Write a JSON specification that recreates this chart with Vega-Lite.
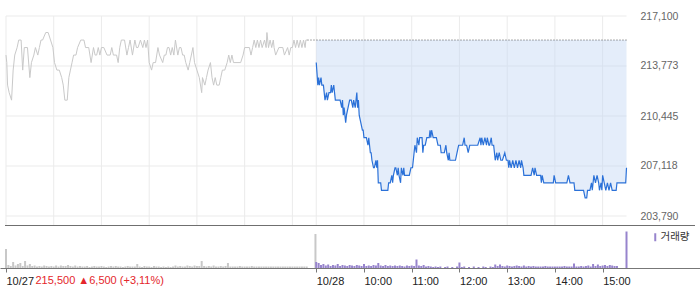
{
  "$schema": "https://vega.github.io/schema/vega-lite/v6.json",
  "width": 700,
  "height": 268,
  "autosize": "none",
  "padding": {"left": 0, "top": 0, "right": 0, "bottom": 21},
  "background": "white",
  "config": {"view": {"stroke": null}, "font": "Liberation Sans"},
  "datasets": {
    "hgrid": [{"p": 203790}, {"p": 207118}, {"p": 210445}, {"p": 213773}, {"p": 217100}],
    "vgrid": [{"m": 0}, {"m": 60}, {"m": 120}, {"m": 180}, {"m": 240}, {"m": 300}, {"m": 360}, {"m": 390}, {"m": 450}, {"m": 510}, {"m": 570}, {"m": 630}, {"m": 690}, {"m": 750}],
    "px1": [
      {"m":0,"p":214500},{"m":1,"p":214000},{"m":2,"p":212500},{"m":4,"p":212000},{"m":7,"p":211500},{"m":9,"p":213500},{"m":11,"p":214500},{"m":14,"p":215000},{"m":16,"p":215500},{"m":19,"p":215500},{"m":21,"p":213500},{"m":23,"p":215000},{"m":27,"p":215000},{"m":30,"p":213000},{"m":32,"p":214000},{"m":35,"p":214500},{"m":37,"p":215000},{"m":40,"p":214500},{"m":42,"p":215000},{"m":44,"p":215500},{"m":46,"p":215500},{"m":50,"p":216000},{"m":53,"p":216000},{"m":56,"p":215500},{"m":59,"p":215000},{"m":61,"p":214000},{"m":64,"p":213500},{"m":67,"p":213500},{"m":70,"p":213000},{"m":72,"p":212500},{"m":74,"p":211500},{"m":77,"p":211500},{"m":79,"p":213000},{"m":81,"p":213500},{"m":83,"p":214000},{"m":85,"p":214500},{"m":88,"p":214500},{"m":90,"p":215000},{"m":94,"p":215500},{"m":98,"p":215500},{"m":100,"p":215000},{"m":104,"p":215000},{"m":107,"p":214000},{"m":110,"p":215000},{"m":112,"p":214500},{"m":114,"p":214500},{"m":116,"p":215000},{"m":118,"p":214500},{"m":120,"p":215000},{"m":123,"p":215000},{"m":127,"p":214500},{"m":131,"p":214500},{"m":133,"p":215000},{"m":135,"p":214500},{"m":139,"p":214500},{"m":141,"p":214000},{"m":143,"p":215000},{"m":145,"p":215500},{"m":149,"p":215500},{"m":152,"p":214500},{"m":154,"p":215000},{"m":156,"p":215500},{"m":159,"p":214500},{"m":162,"p":215500},{"m":164,"p":215000},{"m":166,"p":215000},{"m":169,"p":215500},{"m":172,"p":215000},{"m":174,"p":215500},{"m":176,"p":215000},{"m":178,"p":215500},{"m":180,"p":214000},{"m":183,"p":213500},{"m":185,"p":214000},{"m":188,"p":214000},{"m":191,"p":215000},{"m":193,"p":214500},{"m":197,"p":214000},{"m":199,"p":214500},{"m":201,"p":214500},{"m":203,"p":215000},{"m":205,"p":215000},{"m":207,"p":214500},{"m":209,"p":215000},{"m":211,"p":214500},{"m":213,"p":215500},{"m":216,"p":214500},{"m":218,"p":215000},{"m":220,"p":215000},{"m":222,"p":214500},{"m":224,"p":214500},{"m":226,"p":214000},{"m":229,"p":213500},{"m":231,"p":214000},{"m":233,"p":214500},{"m":235,"p":215000},{"m":237,"p":214000},{"m":240,"p":213500},{"m":243,"p":213000},{"m":246,"p":212000},{"m":247,"p":213000},{"m":250,"p":212500},{"m":252,"p":213000},{"m":254,"p":213500},{"m":257,"p":214000},{"m":259,"p":213000},{"m":261,"p":212500},{"m":263,"p":213000},{"m":265,"p":212500},{"m":268,"p":212500},{"m":270,"p":213000},{"m":272,"p":213500},{"m":275,"p":213500},{"m":278,"p":214000},{"m":280,"p":214500},{"m":282,"p":214000},{"m":284,"p":214500},{"m":286,"p":214000},{"m":295,"p":214000},{"m":298,"p":214500},{"m":300,"p":215000},{"m":306,"p":215000},{"m":308,"p":214500},{"m":310,"p":215000},{"m":312,"p":215500},{"m":314,"p":215000},{"m":316,"p":215500},{"m":318,"p":215000},{"m":320,"p":215500},{"m":322,"p":215000},{"m":325,"p":215500},{"m":327,"p":215000},{"m":328,"p":216000},{"m":330,"p":215000},{"m":332,"p":215500},{"m":334,"p":215000},{"m":336,"p":215500},{"m":337,"p":215000},{"m":339,"p":214500},{"m":343,"p":215000},{"m":348,"p":215000},{"m":350,"p":214500},{"m":354,"p":215000},{"m":356,"p":214500},{"m":358,"p":215000},{"m":360,"p":215000},{"m":362,"p":215500},{"m":364,"p":215000},{"m":366,"p":215500},{"m":368,"p":215000},{"m":370,"p":215500},{"m":372,"p":215000},{"m":374,"p":215500},{"m":376,"p":215000},{"m":377,"p":215500},{"m":379,"p":215500}
    ],
    "px2": [
      {"m":390,"p":214000},{"m":392,"p":212500},{"m":393,"p":213000},{"m":394,"p":212500},{"m":396,"p":213000},{"m":397,"p":212500},{"m":399,"p":212500},{"m":400,"p":212000},{"m":401,"p":211500},{"m":403,"p":212000},{"m":404,"p":211500},{"m":406,"p":212000},{"m":408,"p":212000},{"m":409,"p":212500},{"m":410,"p":212000},{"m":412,"p":212500},{"m":413,"p":212000},{"m":414,"p":211500},{"m":420,"p":211500},{"m":422,"p":211000},{"m":423,"p":211500},{"m":424,"p":210500},{"m":425,"p":211000},{"m":427,"p":210000},{"m":428,"p":210500},{"m":430,"p":211000},{"m":432,"p":211500},{"m":434,"p":211500},{"m":436,"p":211000},{"m":437,"p":211500},{"m":439,"p":211000},{"m":441,"p":212000},{"m":442,"p":211000},{"m":443,"p":211500},{"m":444,"p":210500},{"m":446,"p":210000},{"m":448,"p":209500},{"m":449,"p":209500},{"m":450,"p":209000},{"m":453,"p":209000},{"m":455,"p":208500},{"m":456,"p":209000},{"m":458,"p":208000},{"m":459,"p":208000},{"m":460,"p":207500},{"m":462,"p":207000},{"m":463,"p":207000},{"m":465,"p":207500},{"m":466,"p":207000},{"m":467,"p":207500},{"m":468,"p":206000},{"m":471,"p":206000},{"m":472,"p":205500},{"m":480,"p":205500},{"m":481,"p":206000},{"m":483,"p":206000},{"m":485,"p":206500},{"m":486,"p":206000},{"m":487,"p":206500},{"m":489,"p":207000},{"m":490,"p":207000},{"m":492,"p":206500},{"m":493,"p":207000},{"m":494,"p":206500},{"m":496,"p":206000},{"m":497,"p":207000},{"m":499,"p":206500},{"m":500,"p":207000},{"m":501,"p":206500},{"m":507,"p":206500},{"m":509,"p":207000},{"m":511,"p":207000},{"m":512,"p":207500},{"m":514,"p":208500},{"m":516,"p":208000},{"m":517,"p":209000},{"m":519,"p":208500},{"m":520,"p":209000},{"m":523,"p":209000},{"m":524,"p":208000},{"m":525,"p":208500},{"m":527,"p":208500},{"m":529,"p":209000},{"m":532,"p":209000},{"m":533,"p":209500},{"m":534,"p":209000},{"m":535,"p":209500},{"m":537,"p":209000},{"m":541,"p":209000},{"m":543,"p":208500},{"m":546,"p":208500},{"m":547,"p":208000},{"m":551,"p":208000},{"m":553,"p":208500},{"m":554,"p":208000},{"m":556,"p":207500},{"m":557,"p":208000},{"m":558,"p":207500},{"m":563,"p":207500},{"m":565,"p":207500},{"m":567,"p":208000},{"m":569,"p":208500},{"m":571,"p":208500},{"m":574,"p":208500},{"m":576,"p":209000},{"m":577,"p":208500},{"m":579,"p":208500},{"m":581,"p":208000},{"m":583,"p":208500},{"m":593,"p":208500},{"m":596,"p":209000},{"m":597,"p":208500},{"m":598,"p":209000},{"m":600,"p":208500},{"m":602,"p":209000},{"m":604,"p":208500},{"m":605,"p":209000},{"m":607,"p":208500},{"m":608,"p":208500},{"m":610,"p":209000},{"m":611,"p":208500},{"m":613,"p":208500},{"m":614,"p":208000},{"m":615,"p":207500},{"m":617,"p":208000},{"m":618,"p":207500},{"m":620,"p":208000},{"m":622,"p":207500},{"m":624,"p":207500},{"m":627,"p":208000},{"m":629,"p":207500},{"m":631,"p":207500},{"m":632,"p":207000},{"m":633,"p":207500},{"m":635,"p":207000},{"m":637,"p":207500},{"m":639,"p":207000},{"m":641,"p":207500},{"m":643,"p":207000},{"m":645,"p":207500},{"m":647,"p":207000},{"m":648,"p":207500},{"m":650,"p":207000},{"m":651,"p":206500},{"m":656,"p":206500},{"m":660,"p":206500},{"m":662,"p":207000},{"m":664,"p":206500},{"m":665,"p":207000},{"m":667,"p":206500},{"m":669,"p":206500},{"m":672,"p":206500},{"m":673,"p":206000},{"m":674,"p":206500},{"m":676,"p":206000},{"m":685,"p":206000},{"m":688,"p":206000},{"m":689,"p":206500},{"m":691,"p":206000},{"m":697,"p":206000},{"m":701,"p":206000},{"m":705,"p":206000},{"m":707,"p":206500},{"m":709,"p":206000},{"m":714,"p":206000},{"m":715,"p":205500},{"m":720,"p":205500},{"m":722,"p":205500},{"m":726,"p":205500},{"m":728,"p":205000},{"m":730,"p":205000},{"m":731,"p":205500},{"m":734,"p":205500},{"m":736,"p":206000},{"m":737,"p":205500},{"m":739,"p":206500},{"m":741,"p":206000},{"m":743,"p":206500},{"m":745,"p":206000},{"m":746,"p":205500},{"m":748,"p":206000},{"m":749,"p":205500},{"m":750,"p":206500},{"m":752,"p":206000},{"m":754,"p":205500},{"m":756,"p":206000},{"m":758,"p":205500},{"m":760,"p":206000},{"m":762,"p":205500},{"m":765,"p":205500},{"m":767,"p":205500},{"m":768,"p":206000},{"m":775,"p":206000},{"m":779,"p":206000},{"m":780,"p":207000}
    ],
    "vol": [
      {"m":0,"v":19000,"s":"전일"},{"m":3,"v":3000,"s":"전일"},{"m":6,"v":2000,"s":"전일"},{"m":9,"v":6000,"s":"전일"},{"m":12,"v":2500,"s":"전일"},{"m":15,"v":4000,"s":"전일"},{"m":18,"v":5000,"s":"전일"},{"m":21,"v":2000,"s":"전일"},{"m":24,"v":7000,"s":"전일"},{"m":27,"v":2500,"s":"전일"},{"m":30,"v":4000,"s":"전일"},{"m":33,"v":2000,"s":"전일"},{"m":36,"v":2500,"s":"전일"},{"m":39,"v":1500,"s":"전일"},{"m":42,"v":2000,"s":"전일"},{"m":45,"v":1500,"s":"전일"},{"m":48,"v":2500,"s":"전일"},{"m":51,"v":2000,"s":"전일"},{"m":54,"v":1500,"s":"전일"},{"m":57,"v":2000,"s":"전일"},{"m":60,"v":1500,"s":"전일"},{"m":63,"v":2500,"s":"전일"},{"m":66,"v":1500,"s":"전일"},{"m":69,"v":2500,"s":"전일"},{"m":72,"v":2000,"s":"전일"},{"m":75,"v":2000,"s":"전일"},{"m":78,"v":3000,"s":"전일"},{"m":81,"v":2000,"s":"전일"},{"m":84,"v":1500,"s":"전일"},{"m":87,"v":2500,"s":"전일"},{"m":90,"v":1500,"s":"전일"},{"m":93,"v":2000,"s":"전일"},{"m":96,"v":1500,"s":"전일"},{"m":99,"v":1500,"s":"전일"},{"m":102,"v":2000,"s":"전일"},{"m":105,"v":1000,"s":"전일"},{"m":108,"v":1500,"s":"전일"},{"m":111,"v":2000,"s":"전일"},{"m":114,"v":1500,"s":"전일"},{"m":117,"v":1500,"s":"전일"},{"m":120,"v":2000,"s":"전일"},{"m":123,"v":1500,"s":"전일"},{"m":126,"v":1000,"s":"전일"},{"m":129,"v":1500,"s":"전일"},{"m":132,"v":2000,"s":"전일"},{"m":135,"v":1500,"s":"전일"},{"m":138,"v":2000,"s":"전일"},{"m":141,"v":1500,"s":"전일"},{"m":144,"v":1500,"s":"전일"},{"m":147,"v":1000,"s":"전일"},{"m":150,"v":1500,"s":"전일"},{"m":153,"v":2000,"s":"전일"},{"m":156,"v":1500,"s":"전일"},{"m":159,"v":1500,"s":"전일"},{"m":162,"v":1500,"s":"전일"},{"m":165,"v":4000,"s":"전일"},{"m":168,"v":1500,"s":"전일"},{"m":171,"v":1000,"s":"전일"},{"m":174,"v":2000,"s":"전일"},{"m":177,"v":1500,"s":"전일"},{"m":180,"v":1500,"s":"전일"},{"m":183,"v":1000,"s":"전일"},{"m":186,"v":2000,"s":"전일"},{"m":189,"v":1500,"s":"전일"},{"m":192,"v":1500,"s":"전일"},{"m":195,"v":1000,"s":"전일"},{"m":198,"v":1500,"s":"전일"},{"m":201,"v":1000,"s":"전일"},{"m":204,"v":1500,"s":"전일"},{"m":207,"v":1000,"s":"전일"},{"m":210,"v":1500,"s":"전일"},{"m":213,"v":2500,"s":"전일"},{"m":216,"v":1500,"s":"전일"},{"m":219,"v":2000,"s":"전일"},{"m":222,"v":1500,"s":"전일"},{"m":225,"v":1500,"s":"전일"},{"m":228,"v":2500,"s":"전일"},{"m":231,"v":2000,"s":"전일"},{"m":234,"v":1500,"s":"전일"},{"m":237,"v":2500,"s":"전일"},{"m":240,"v":2000,"s":"전일"},{"m":243,"v":2000,"s":"전일"},{"m":246,"v":7000,"s":"전일"},{"m":249,"v":2000,"s":"전일"},{"m":252,"v":1500,"s":"전일"},{"m":255,"v":2000,"s":"전일"},{"m":258,"v":1500,"s":"전일"},{"m":261,"v":2500,"s":"전일"},{"m":264,"v":1500,"s":"전일"},{"m":267,"v":1500,"s":"전일"},{"m":270,"v":2000,"s":"전일"},{"m":273,"v":1500,"s":"전일"},{"m":276,"v":2000,"s":"전일"},{"m":279,"v":5000,"s":"전일"},{"m":282,"v":1500,"s":"전일"},{"m":285,"v":1500,"s":"전일"},{"m":288,"v":1500,"s":"전일"},{"m":291,"v":1500,"s":"전일"},{"m":294,"v":2000,"s":"전일"},{"m":297,"v":1500,"s":"전일"},{"m":300,"v":1500,"s":"전일"},{"m":303,"v":1500,"s":"전일"},{"m":306,"v":1500,"s":"전일"},{"m":309,"v":2000,"s":"전일"},{"m":312,"v":1500,"s":"전일"},{"m":315,"v":1500,"s":"전일"},{"m":318,"v":1500,"s":"전일"},{"m":321,"v":1500,"s":"전일"},{"m":324,"v":1500,"s":"전일"},{"m":327,"v":1500,"s":"전일"},{"m":330,"v":1500,"s":"전일"},{"m":333,"v":1500,"s":"전일"},{"m":336,"v":1500,"s":"전일"},{"m":339,"v":1500,"s":"전일"},{"m":342,"v":1500,"s":"전일"},{"m":345,"v":1500,"s":"전일"},{"m":348,"v":1500,"s":"전일"},{"m":351,"v":1500,"s":"전일"},{"m":354,"v":1500,"s":"전일"},{"m":357,"v":1500,"s":"전일"},{"m":360,"v":1500,"s":"전일"},{"m":363,"v":1500,"s":"전일"},{"m":366,"v":1500,"s":"전일"},{"m":369,"v":1500,"s":"전일"},{"m":372,"v":1500,"s":"전일"},{"m":375,"v":1500,"s":"전일"},{"m":378,"v":1500,"s":"전일"},{"m":389,"v":34000,"s":"전일"},
      {"m":390,"v":6000,"s":"거래량"},{"m":393,"v":5000,"s":"거래량"},{"m":396,"v":3000,"s":"거래량"},{"m":399,"v":4000,"s":"거래량"},{"m":402,"v":2500,"s":"거래량"},{"m":405,"v":3500,"s":"거래량"},{"m":408,"v":2000,"s":"거래량"},{"m":411,"v":3000,"s":"거래량"},{"m":414,"v":2500,"s":"거래량"},{"m":417,"v":4000,"s":"거래량"},{"m":420,"v":2000,"s":"거래량"},{"m":423,"v":3000,"s":"거래량"},{"m":426,"v":2500,"s":"거래량"},{"m":429,"v":2000,"s":"거래량"},{"m":432,"v":3000,"s":"거래량"},{"m":435,"v":2500,"s":"거래량"},{"m":438,"v":2000,"s":"거래량"},{"m":441,"v":3000,"s":"거래량"},{"m":444,"v":2500,"s":"거래량"},{"m":447,"v":2000,"s":"거래량"},{"m":450,"v":4000,"s":"거래량"},{"m":453,"v":2000,"s":"거래량"},{"m":456,"v":2500,"s":"거래량"},{"m":459,"v":2000,"s":"거래량"},{"m":462,"v":3000,"s":"거래량"},{"m":465,"v":2500,"s":"거래량"},{"m":468,"v":5000,"s":"거래량"},{"m":471,"v":2500,"s":"거래량"},{"m":474,"v":2000,"s":"거래량"},{"m":477,"v":3000,"s":"거래량"},{"m":480,"v":2000,"s":"거래량"},{"m":483,"v":2500,"s":"거래량"},{"m":486,"v":2000,"s":"거래량"},{"m":489,"v":2500,"s":"거래량"},{"m":492,"v":2000,"s":"거래량"},{"m":495,"v":2500,"s":"거래량"},{"m":498,"v":2000,"s":"거래량"},{"m":501,"v":1500,"s":"거래량"},{"m":504,"v":2500,"s":"거래량"},{"m":507,"v":2000,"s":"거래량"},{"m":510,"v":2500,"s":"거래량"},{"m":513,"v":2000,"s":"거래량"},{"m":516,"v":8500,"s":"거래량"},{"m":519,"v":2500,"s":"거래량"},{"m":522,"v":2000,"s":"거래량"},{"m":525,"v":3000,"s":"거래량"},{"m":528,"v":1500,"s":"거래량"},{"m":531,"v":2000,"s":"거래량"},{"m":534,"v":1500,"s":"거래량"},{"m":537,"v":1000,"s":"거래량"},{"m":540,"v":1500,"s":"거래량"},{"m":543,"v":1000,"s":"거래량"},{"m":546,"v":1500,"s":"거래량"},{"m":552,"v":1000,"s":"거래량"},{"m":555,"v":1500,"s":"거래량"},{"m":561,"v":1000,"s":"거래량"},{"m":567,"v":1500,"s":"거래량"},{"m":570,"v":5500,"s":"거래량"},{"m":573,"v":1000,"s":"거래량"},{"m":576,"v":1500,"s":"거래량"},{"m":582,"v":1000,"s":"거래량"},{"m":588,"v":1500,"s":"거래량"},{"m":594,"v":1000,"s":"거래량"},{"m":600,"v":1500,"s":"거래량"},{"m":603,"v":1000,"s":"거래량"},{"m":609,"v":1500,"s":"거래량"},{"m":612,"v":1000,"s":"거래량"},{"m":615,"v":3500,"s":"거래량"},{"m":618,"v":2000,"s":"거래량"},{"m":621,"v":3500,"s":"거래량"},{"m":624,"v":2000,"s":"거래량"},{"m":627,"v":1500,"s":"거래량"},{"m":630,"v":2500,"s":"거래량"},{"m":633,"v":2000,"s":"거래량"},{"m":636,"v":1500,"s":"거래량"},{"m":639,"v":2000,"s":"거래량"},{"m":642,"v":2500,"s":"거래량"},{"m":645,"v":2000,"s":"거래량"},{"m":648,"v":1500,"s":"거래량"},{"m":651,"v":2500,"s":"거래량"},{"m":654,"v":1500,"s":"거래량"},{"m":657,"v":2000,"s":"거래량"},{"m":660,"v":1500,"s":"거래량"},{"m":663,"v":2000,"s":"거래량"},{"m":666,"v":1500,"s":"거래량"},{"m":669,"v":1500,"s":"거래량"},{"m":672,"v":1500,"s":"거래량"},{"m":675,"v":1500,"s":"거래량"},{"m":678,"v":2000,"s":"거래량"},{"m":681,"v":1500,"s":"거래량"},{"m":684,"v":1500,"s":"거래량"},{"m":687,"v":1500,"s":"거래량"},{"m":690,"v":1500,"s":"거래량"},{"m":693,"v":1500,"s":"거래량"},{"m":696,"v":1500,"s":"거래량"},{"m":699,"v":1500,"s":"거래량"},{"m":702,"v":2000,"s":"거래량"},{"m":705,"v":1500,"s":"거래량"},{"m":708,"v":1500,"s":"거래량"},{"m":711,"v":1500,"s":"거래량"},{"m":714,"v":4500,"s":"거래량"},{"m":717,"v":1500,"s":"거래량"},{"m":720,"v":1500,"s":"거래량"},{"m":723,"v":2000,"s":"거래량"},{"m":726,"v":1500,"s":"거래량"},{"m":729,"v":2000,"s":"거래량"},{"m":732,"v":2500,"s":"거래량"},{"m":735,"v":1500,"s":"거래량"},{"m":738,"v":4000,"s":"거래량"},{"m":741,"v":2000,"s":"거래량"},{"m":744,"v":3500,"s":"거래량"},{"m":747,"v":2000,"s":"거래량"},{"m":750,"v":2500,"s":"거래량"},{"m":753,"v":3000,"s":"거래량"},{"m":756,"v":2000,"s":"거래량"},{"m":759,"v":3000,"s":"거래량"},{"m":762,"v":2500,"s":"거래량"},{"m":765,"v":2000,"s":"거래량"},{"m":768,"v":2000,"s":"거래량"},{"m":780,"v":36500,"s":"거래량"}
    ]
  },
  "layer": [
    {
      "data": {"name": "vgrid"},
      "mark": {"type": "rule", "color": "#ebebeb", "strokeWidth": 1},
      "encoding": {
        "x": {"field": "m", "type": "quantitative", "scale": {"domain": [-1.24, 866.1], "nice": false, "zero": false},
          "axis": {"values": [0, 390, 450, 510, 570, 630, 690, 750], "labelExpr": "datum.value == 0 ? '10/27' : datum.value == 390 ? '10/28' : (9 + (datum.value - 390) / 60) + ':00'", "domain": true, "domainColor": "#777777", "domainWidth": 1, "ticks": true, "tickColor": "#777777", "tickSize": 4, "grid": false, "labelAlign": "left", "labelBaseline": "top", "labelPadding": 3, "labelFontSize": 11, "labelColor": "#222222", "labelFlush": false, "labelOverlap": false, "title": "215,500 ▲6,500 (+3,11%)", "titleColor": "#e4262b", "titleFontSize": 11, "titleFontWeight": "normal", "titleX": 35, "titleY": 12, "titleAlign": "left", "titleBaseline": "middle", "titleAngle": 0}
        },
        "y": {"datum": 217100, "type": "quantitative", "scale": {"domain": [203790, 217100], "range": [216, 16], "nice": false, "zero": false}, "axis": null},
        "y2": {"datum": 203191}
      }
    },
    {
      "data": {"name": "hgrid"},
      "mark": {"type": "rule", "color": "#ebebeb", "strokeWidth": 1},
      "encoding": {
        "x": {"datum": 0, "type": "quantitative"},
        "x2": {"datum": 780},
        "y": {"field": "p", "type": "quantitative", "scale": {"domain": [203790, 217100], "range": [216, 16], "nice": false, "zero": false}, "axis": null}
      }
    },
    {
      "data": {"name": "px2"},
      "mark": {"type": "area", "color": "#c3d7f3", "opacity": 0.45},
      "encoding": {
        "x": {"field": "m", "type": "quantitative"},
        "y": {"field": "p", "type": "quantitative", "scale": {"domain": [203790, 217100], "range": [216, 16], "nice": false, "zero": false}, "axis": null},
        "y2": {"datum": 215500}
      }
    },
    {
      "data": {"values": [{}]},
      "mark": {"type": "rule", "color": "#555555", "strokeWidth": 1, "strokeDash": [1, 2]},
      "encoding": {
        "x": {"datum": 379, "type": "quantitative"},
        "x2": {"datum": 780},
        "y": {"datum": 215500, "type": "quantitative", "scale": {"domain": [203790, 217100], "range": [216, 16], "nice": false, "zero": false}, "axis": null}
      }
    },
    {
      "data": {"name": "px1"},
      "mark": {"type": "line", "color": "#c9c9c9", "strokeWidth": 1},
      "encoding": {
        "x": {"field": "m", "type": "quantitative"},
        "y": {"field": "p", "type": "quantitative", "scale": {"domain": [203790, 217100], "range": [216, 16], "nice": false, "zero": false}, "axis": null}
      }
    },
    {
      "data": {"name": "px2"},
      "mark": {"type": "line", "color": "#2b71d8", "strokeWidth": 1.2},
      "encoding": {
        "x": {"field": "m", "type": "quantitative"},
        "y": {"field": "p", "type": "quantitative", "scale": {"domain": [203790, 217100], "range": [216, 16], "nice": false, "zero": false},
          "axis": {"orient": "right", "offset": -60, "values": [203790, 207118, 210445, 213773, 217100], "format": ",d", "domain": false, "ticks": false, "tickSize": 0, "grid": false, "labelPadding": 0, "labelFontSize": 10.5, "labelColor": "#666666", "labelOverlap": false, "labelFlush": false, "labelBaseline": "middle", "title": null}
        }
      }
    },
    {
      "data": {"values": [{}]},
      "mark": {"type": "rule", "color": "#6f6f6f", "strokeWidth": 1},
      "encoding": {
        "x": {"datum": -1.24, "type": "quantitative"},
        "x2": {"datum": 866.1},
        "y": {"datum": 42500, "type": "quantitative", "scale": {"domain": [0, 42000], "range": [268, 226], "nice": false}, "axis": null}
      }
    },
    {
      "data": {"name": "vol"},
      "mark": {"type": "bar", "width": 2},
      "encoding": {
        "x": {"field": "m", "type": "quantitative"},
        "y": {"field": "v", "type": "quantitative", "scale": {"domain": [0, 42000], "range": [268, 226], "nice": false}, "axis": null},
        "color": {"field": "s", "type": "nominal",
          "scale": {"domain": ["전일", "거래량"], "range": ["#c8c8c8", "#9784cd"]},
          "legend": {"orient": "none", "legendX": 650, "legendY": 232, "values": ["거래량"], "title": null, "symbolType": "M-0.25,-1H0.25V1H-0.25Z", "symbolSize": 64, "symbolStrokeWidth": 0, "labelFont": "Noto Sans CJK KR", "labelFontSize": 10.5, "labelColor": "#333333", "labelOffset": 0, "padding": 0}
        }
      }
    }
  ],
  "resolve": {"scale": {"y": "independent"}, "axis": {"y": "independent"}}
}
